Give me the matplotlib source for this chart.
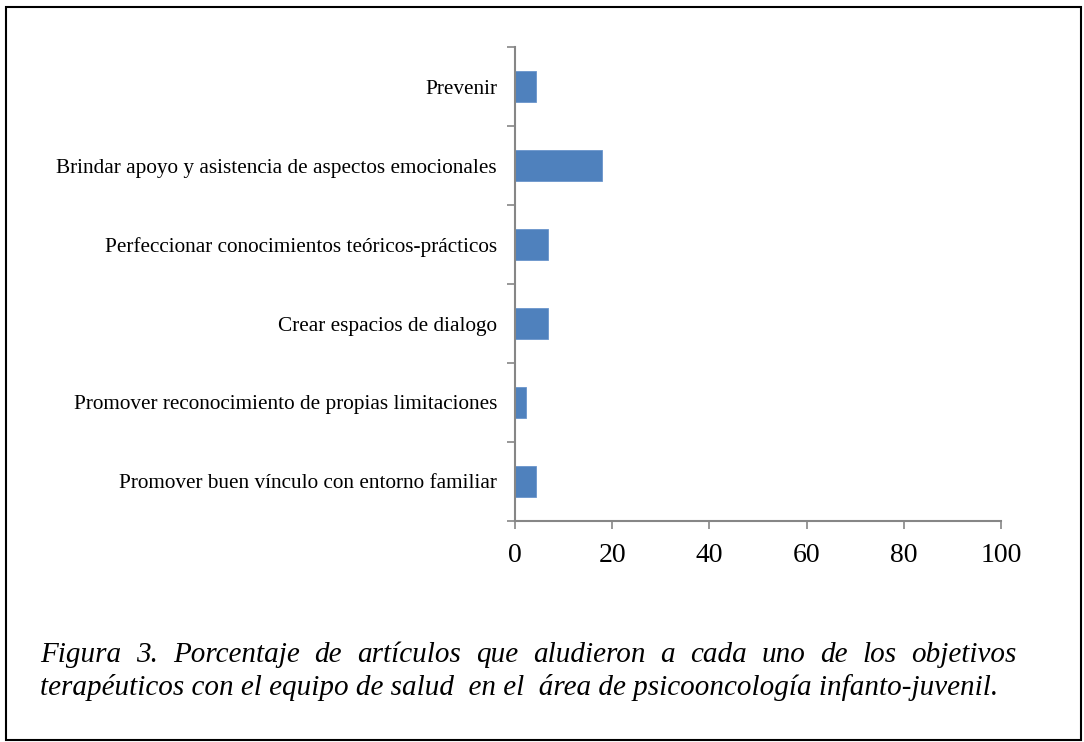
import matplotlib
matplotlib.use("Agg")
import matplotlib.pyplot as plt
from matplotlib.patches import Rectangle

categories = [
    "Promover buen vínculo con entorno familiar",
    "Promover reconocimiento de propias limitaciones",
    "Crear espacios de dialogo",
    "Perfeccionar conocimientos teóricos-prácticos",
    "Brindar apoyo y asistencia de aspectos emocionales",
    "Prevenir",
]
values = [4.4, 2.2, 6.7, 6.7, 17.8, 4.4]
x_ticks = [0, 20, 40, 60, 80, 100]

caption_line1 = "Figura 3. Porcentaje de artículos que aludieron a  cada uno de los objetivos"
caption_line2 = "terapéuticos con el equipo de salud  en el  área de psicooncología infanto-juvenil."

plt.rcParams["font.family"] = ["Liberation Serif", "DejaVu Serif"]

W, H = 1084, 742
fig = plt.figure(figsize=(W / 100, H / 100), dpi=100)
fig.patches.append(Rectangle((6 / W, 2 / H), (1081 - 6) / W, (735 - 2) / H,
                             transform=fig.transFigure, fill=False,
                             edgecolor="black", linewidth=1.5))

ax = fig.add_axes([515 / W, 1 - 521 / H, (1001 - 515) / W, (521 - 47) / H])
ypos = list(range(len(categories)))
ax.barh(ypos, values, height=0.4, color="#4F81BD", edgecolor="#6A95CC", linewidth=0.6)
ax.set_xlim(0, 100)
ax.set_ylim(-0.5, len(categories) - 0.5)
ax.set_xticks(x_ticks)
ax.set_xticklabels([str(t) for t in x_ticks], fontsize=20)
ax.set_yticks(ypos)
ax.set_yticklabels(categories, fontsize=15.3)
ax.set_yticks([i - 0.5 for i in range(len(categories) + 1)], minor=True)
ax.tick_params(axis="y", which="major", length=0, pad=13)
ax.tick_params(axis="y", which="minor", length=6, color="#868686", width=1.2)
ax.tick_params(axis="x", length=6, color="#868686", width=1.2, pad=10)
for side in ["top", "right"]:
    ax.spines[side].set_visible(False)
for side in ["left", "bottom"]:
    ax.spines[side].set_color("#868686")
    ax.spines[side].set_linewidth(1.5)

# caption, first line justified word by word
cap_fs = 21
fig.canvas.draw()
renderer = fig.canvas.get_renderer()
x0, x1 = 40, 1017
words = caption_line1.split()
widths = []
for w in words:
    t = fig.text(0, 0, w, fontsize=cap_fs, style="italic")
    widths.append(t.get_window_extent(renderer).width)
    t.remove()
gap = (x1 - x0 - sum(widths)) / (len(words) - 1)
x = x0
for w, wd in zip(words, widths):
    fig.text(x / W, 1 - 662 / H, w, fontsize=cap_fs, style="italic", va="baseline")
    x += wd + gap
fig.text(x0 / W, 1 - 695 / H, caption_line2, fontsize=cap_fs, style="italic", va="baseline")

fig.savefig("out.png", dpi=100)
